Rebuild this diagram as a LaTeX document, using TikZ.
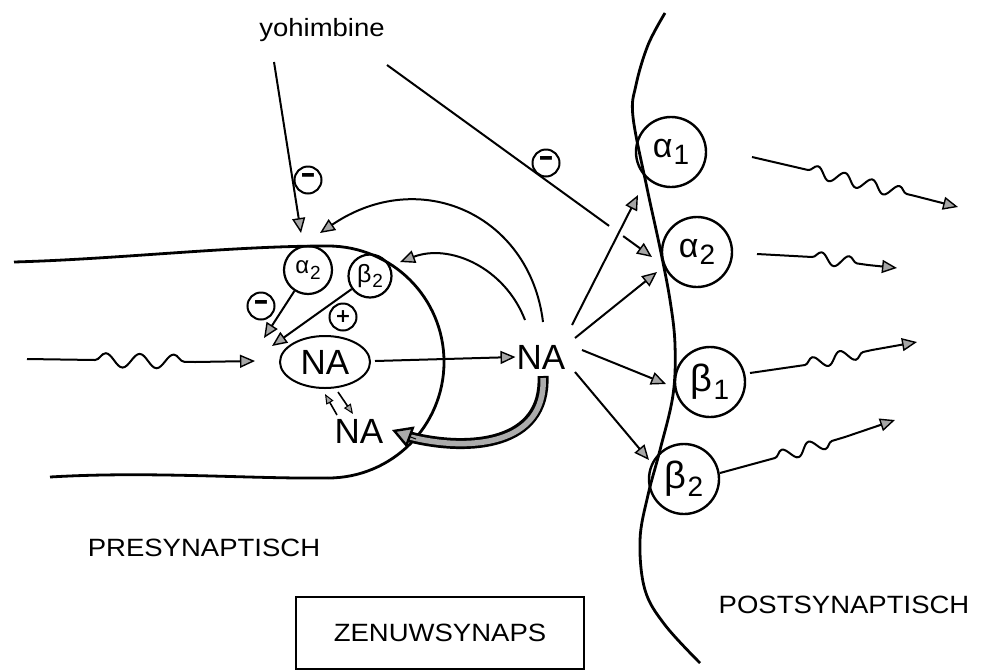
\documentclass[tikz,border=0pt]{standalone}
\usepackage{graphicx}
\usepackage{fontspec}
\setmainfont{Liberation Sans}
\newfontfamily\dvs{DejaVu Sans}
\usetikzlibrary{arrows.meta,decorations.pathmorphing,shapes.geometric,calc}
\newcommand{\reclab}[4]{\fontsize{#1}{#1}\selectfont #2\raisebox{-0.22em}{\fontsize{#3}{#3}\selectfont\kern0.04em #4}}
\newcommand{\wlab}[1]{\scalebox{1.1}[1]{#1}}
\begin{document}
\begin{tikzpicture}[x=1pt,y=-1pt,
  mem/.style={line width=2.8pt},
  arr/.style={line width=2pt,-{Triangle[length=15pt,width=13pt,fill=gray!70,line width=1.4pt]}},
  smallarr/.style={line width=1.6pt,-{Triangle[length=10pt,width=8pt,fill=gray!70,line width=1pt]}},
  rec/.style={circle,draw,line width=2.4pt,minimum size=70pt,inner sep=0pt},
  prerec/.style={circle,draw,line width=2.2pt,inner sep=0pt},
  sign/.style={circle,draw,line width=2pt,minimum size=27pt,inner sep=0pt,font=\dvs\bfseries\fontsize{19}{19}\selectfont},
  lbl/.style={font=\fontsize{25}{25}\selectfont,inner sep=0pt},
  na/.style={font=\fontsize{35}{35}\selectfont,inner sep=1pt},
  wave/.style={decorate,decoration={snake,amplitude=6pt,segment length=28pt}}
]
\useasboundingbox (0,0) rectangle (990,670);

% ---------- presynaptic membrane ----------
\coordinate (topL) at (14,262);
\coordinate (topR) at (328,246);
\coordinate (botL) at (50,477);
\coordinate (botR) at (328,478);
\draw[mem] (topL) .. controls (120,259) and (230,246) .. (topR)
  arc[start angle=-90,end angle=90,radius=116];
\draw[mem] (botL) .. controls (150,471) and (250,479) .. (botR);

% ---------- postsynaptic membrane ----------
\draw[mem] plot[smooth,tension=0.6] coordinates {(665,13) (648,45) (636,85) (633,117) (647,188) (660,248) (670,300) (675,345) (673,395) (660,450) (648,495) (640,540) (645,590) (665,625) (700,663)};

% ---------- receptors ----------
\node[rec] (a1) at (671,152) {\reclab{34}{α}{28}{1}};
\node[rec] (a2) at (697,252) {\reclab{34}{α}{28}{2}};
\node[rec] (b1) at (710,382) {\reclab{38}{β}{28}{1}};
\node[rec] (b2) at (684,479) {\reclab{38}{β}{28}{2}};
\node[prerec,minimum size=48pt] (pa2) at (308,270) {\reclab{24}{α}{19}{2}};
\node[prerec,minimum size=43pt] (pb2) at (370,276) {\reclab{25}{β}{19}{2}};

% ---------- NA ----------
\node[ellipse,draw,line width=2pt,minimum width=90pt,minimum height=52pt,inner sep=0pt,font=\fontsize{35}{35}\selectfont] (NAe) at (325,362) {NA};
\node[na] (NAin) at (359,431) {NA};
\node[na] (NAout) at (541,357) {NA};

% ---------- texts ----------
\node[lbl,anchor=base] (yoh) at (322,36) {\wlab{yohimbine}};
\node[lbl,anchor=base] (pre) at (204,556) {\wlab{PRESYNAPTISCH}};
\node[lbl,anchor=base] (post) at (844,613) {\wlab{POSTSYNAPTISCH}};
\node[draw,line width=1.6pt,minimum width=288pt,minimum height=72pt,inner sep=0pt,font=\fontsize{25}{25}\selectfont] (box) at (440,633) {\raisebox{-5pt}{\wlab{ZENUWSYNAPS}}};

% ---------- signs ----------
\node[sign] (m1) at (308,180) {\scalebox{1}[1.7]{−}};
\node[sign] (m2) at (546,163) {\scalebox{1}[1.7]{−}};
\node[sign] (m3) at (261,306) {\scalebox{1}[1.7]{−}};
\node[sign] (p1) at (343,317) {+};

% ---------- yohimbine arrows ----------
\coordinate (y1s) at (274,62);
\coordinate (y1e) at (301,233);
\draw[arr] (y1s) -- (y1e);
\coordinate (y2s) at (387,65);
\coordinate (y2e) at (652,257);
\coordinate (y2g1) at ($(y2s)!0.838!(y2e)$);
\coordinate (y2g2) at ($(y2s)!0.891!(y2e)$);
\draw[line width=2pt] (y2s) -- (y2g1);
\draw[arr] (y2g2) -- (y2e);

% ---------- feedback curves ----------
\coordinate (f1s) at (543,322);
\coordinate (f1e) at (320,233);
\draw[arr] (f1s) .. controls (530,215) and (420,165) .. (f1e);
\coordinate (f2s) at (525,320);
\coordinate (f2e) at (400,262);
\draw[arr] (f2s) .. controls (505,268) and (450,243) .. (f2e);

% ---------- NA release ----------
\coordinate (ws) at (27,359);
\coordinate (wt) at (255,361);
\draw[arr] (ws) -- (95,360) decorate[decoration={snake,amplitude=7pt,segment length=34pt}]{-- (195,362)} -- (wt);
\coordinate (ne) at (375,361);
\draw[arr] (ne) -- (NAout.west);

\coordinate (t3) at (264,338);
\coordinate (t4) at (272,346);
\draw[arr] (pa2) -- (t3);
\draw[arr] (pb2) -- (t4);
\coordinate (d1s) at (337,415);
\coordinate (d1e) at (325,394);
\coordinate (d2s) at (338,392);
\coordinate (d2e) at (353,414);
\draw[smallarr] (d1s) -- (d1e);
\draw[smallarr] (d2s) -- (d2e);

% ---------- reuptake (thick) ----------
\coordinate (rs) at (543,376);
\coordinate (rb) at (410,437);
\coordinate (rt) at (392,430);
\draw[line width=11pt] (rs) .. controls (546,445) and (470,452) .. (rb);
\draw[line width=5.5pt,gray!65,shorten <=2pt] (rs) .. controls (546,445) and (470,452) .. (rb);
\draw[line width=1pt,-{Triangle[length=20pt,width=22pt,fill=gray!65,line width=2.4pt]}] (416,439) -- (rt);

% ---------- NA -> postsynaptic receptors ----------
\coordinate (o1) at (572,325);
\coordinate (o2) at (575,338);
\coordinate (o3) at (582,350);
\coordinate (o4) at (575,372);
\coordinate (e1) at (638,195);
\coordinate (e2) at (657,272);
\coordinate (e3) at (666,384);
\coordinate (e4) at (649,460);
\draw[arr] (o1) -- (e1);
\draw[arr] (o2) -- (e2);
\draw[arr] (o3) -- (e3);
\draw[arr] (o4) -- (e4);

% ---------- postsynaptic signals ----------
\draw[arr] (752,157) -- (808,170) decorate[wave]{-- (915,196)} -- (958,207) coordinate (s1);
\draw[arr] (757,254) -- (812,257) decorate[wave]{-- (868,265)} -- (897,268) coordinate (s2);
\draw[arr] (750,373) -- (805,365) decorate[wave]{-- (872,350)} -- (917,342) coordinate (s3);
\draw[arr] (720,473) -- (775,458) decorate[wave]{-- (845,437)} -- (895,420) coordinate (s4);
\end{tikzpicture}
\end{document}
